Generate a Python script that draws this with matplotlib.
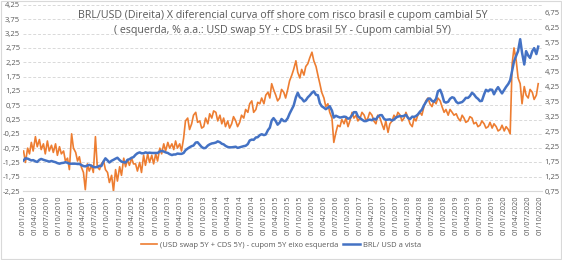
import numpy as np
import pandas as pd
import matplotlib
matplotlib.use("Agg")
import matplotlib.pyplot as plt
import matplotlib.dates as mdates
from matplotlib.ticker import FuncFormatter, FixedLocator
from matplotlib.patches import Rectangle

# semi-monthly readings (1st and 15th of each month), Jan 2010 .. Sep 2020
dates = pd.date_range("2010-01-01", "2020-09-15", freq="SMS")

# (USD swap 5Y + CDS 5Y) - cupom 5Y, left axis
spread = [
    # 2010
    -0.85, -1.25, -0.75, -0.95, -0.55, -0.85, -0.35, -0.70, -0.45, -0.80, -0.60, -0.95,
    -0.50, -0.85, -0.65, -0.90, -0.60, -1.00, -0.70, -0.95, -0.85, -1.20, -1.10, -1.50,
    # 2011
    -0.25, -0.75, -0.90, -1.20, -1.05, -1.40, -1.60, -2.20, -1.30, -1.55, -1.35, -1.60,
    -0.35, -1.40, -1.50, -1.30, -1.20, -1.50, -1.60, -1.95, -1.70, -2.25, -1.50, -1.90,
    # 2012
    -1.40, -1.70, -1.10, -1.40, -1.15, -1.35, -1.10, -1.30, -1.30, -1.55, -1.25, -1.60,
    -1.00, -1.35, -0.95, -1.25, -1.00, -1.30, -0.95, -1.20, -0.75, -0.95, -0.60, -0.85,
    # 2013
    -0.55, -0.75, -0.60, -0.80, -0.50, -0.75, -0.60, -0.85, -0.40, 0.20, 0.30, -0.10,
    0.10, 0.40, 0.50, 0.15, 0.20, -0.05, 0.00, 0.30, 0.10, 0.45, 0.30, 0.55,
    # 2014
    0.50, 0.20, 0.40, 0.10, 0.30, 0.00, 0.20, -0.05, 0.10, 0.35, 0.20, 0.00,
    0.15, 0.40, 0.30, 0.60, 0.50, 0.80, 0.90, 0.50, 0.60, 0.85, 0.80, 1.00,
    # 2015
    0.80, 1.10, 1.20, 1.00, 1.50, 1.30, 1.10, 0.90, 1.00, 1.30, 1.20, 1.00,
    1.30, 1.60, 1.80, 2.00, 2.30, 1.90, 1.70, 2.00, 1.80, 2.10, 2.20, 2.40,
    # 2016
    2.60, 2.30, 2.10, 1.80, 1.50, 1.20, 1.00, 0.70, 0.80, 0.50, 0.30, -0.55,
    -0.20, 0.05, 0.00, 0.25, 0.10, 0.30, 0.00, 0.20, 0.50, 0.30, 0.40, 0.20,
    # 2017
    0.30, 0.50, 0.40, 0.20, 0.30, 0.50, 0.40, 0.20, 0.10, 0.40, 0.30, 0.10,
    -0.10, 0.20, -0.20, 0.10, 0.20, 0.40, 0.30, 0.50, 0.40, 0.20, 0.30, 0.50,
    # 2018
    0.30, 0.10, 0.00, 0.30, 0.20, 0.40, 0.50, 0.40, 0.70, 0.90, 1.00, 0.80,
    0.70, 0.90, 0.80, 1.00, 0.90, 0.70, 0.50, 0.60, 0.40, 0.60, 0.50, 0.40,
    # 2019
    0.45, 0.30, 0.20, 0.40, 0.30, 0.15, 0.20, 0.35, 0.30, 0.10, 0.15, 0.00,
    0.05, 0.20, 0.10, -0.05, 0.00, 0.15, -0.05, 0.10, 0.00, -0.15, -0.10, 0.05,
    # 2020
    -0.15, 0.00, -0.10, -0.25, 2.20, 2.75, 2.30, 1.70, 1.50, 0.80, 1.40, 1.10,
    1.00, 1.30, 1.20, 0.95, 1.10, 1.50,
]

# BRL/USD spot, right axis
brl = [
    # 2010
    1.78, 1.85, 1.84, 1.81, 1.78, 1.79, 1.75, 1.73, 1.80, 1.83, 1.80, 1.78,
    1.76, 1.74, 1.76, 1.74, 1.72, 1.69, 1.67, 1.69, 1.70, 1.72, 1.70, 1.67,
    # 2011
    1.67, 1.67, 1.67, 1.66, 1.66, 1.63, 1.59, 1.58, 1.61, 1.63, 1.60, 1.56,
    1.55, 1.56, 1.60, 1.59, 1.75, 1.85, 1.78, 1.71, 1.77, 1.80, 1.84, 1.87,
    # 2012
    1.79, 1.74, 1.72, 1.71, 1.80, 1.82, 1.87, 1.89, 1.97, 2.02, 2.05, 2.02,
    2.02, 2.05, 2.03, 2.04, 2.03, 2.03, 2.03, 2.03, 2.08, 2.10, 2.08, 2.05,
    # 2013
    2.03, 1.99, 1.96, 1.98, 1.98, 2.01, 2.00, 2.00, 2.03, 2.12, 2.18, 2.22,
    2.26, 2.28, 2.38, 2.39, 2.30, 2.23, 2.19, 2.20, 2.28, 2.32, 2.35, 2.36,
    # 2014
    2.38, 2.42, 2.39, 2.34, 2.32, 2.27, 2.23, 2.22, 2.22, 2.23, 2.24, 2.20,
    2.22, 2.24, 2.26, 2.27, 2.33, 2.45, 2.48, 2.47, 2.55, 2.56, 2.63, 2.66,
    # 2015
    2.63, 2.65, 2.80, 2.88, 3.12, 3.20, 3.10, 2.98, 3.05, 3.17, 3.10, 3.10,
    3.20, 3.35, 3.50, 3.62, 3.90, 4.05, 3.90, 3.86, 3.76, 3.80, 3.90, 3.96,
    # 2016
    4.05, 4.10, 3.98, 3.97, 3.70, 3.60, 3.55, 3.50, 3.55, 3.60, 3.45, 3.22,
    3.28, 3.25, 3.22, 3.23, 3.25, 3.24, 3.18, 3.20, 3.30, 3.40, 3.40, 3.26,
    # 2017
    3.20, 3.15, 3.10, 3.10, 3.13, 3.15, 3.13, 3.18, 3.15, 3.25, 3.30, 3.30,
    3.18, 3.14, 3.15, 3.16, 3.12, 3.15, 3.22, 3.25, 3.27, 3.26, 3.28, 3.31,
    # 2018
    3.20, 3.17, 3.25, 3.24, 3.27, 3.32, 3.42, 3.48, 3.63, 3.73, 3.85, 3.86,
    3.78, 3.75, 3.85, 4.10, 4.15, 4.00, 3.75, 3.72, 3.75, 3.85, 3.90, 3.88,
    # 2019
    3.75, 3.70, 3.72, 3.74, 3.80, 3.88, 3.88, 3.94, 4.05, 4.00, 3.90, 3.85,
    3.77, 3.78, 4.00, 4.15, 4.10, 4.16, 4.15, 4.00, 4.15, 4.24, 4.12, 4.03,
    # 2020
    4.15, 4.25, 4.35, 4.47, 4.80, 5.10, 5.30, 5.45, 5.85, 5.40, 5.00, 5.45,
    5.30, 5.22, 5.45, 5.55, 5.35, 5.60,
]

title = ("BRL/USD (Direita) X diferencial curva off shore com risco brasil e cupom cambial 5Y\n"
         "( esquerda, % a.a.: USD swap 5Y + CDS brasil 5Y - Cupom cambial 5Y)")
label_spread = "(USD swap 5Y + CDS 5Y) - cupom 5Y eixo esquerda"
label_brl = "BRL/ USD a vista"

orange = "#ED7D31"
blue = "#4472C4"
grey_txt = "#595959"

plt.rcParams["font.family"] = ["Open Sans", "DejaVu Sans"]

fig = plt.figure(figsize=(5.62, 2.60), dpi=100)
ax = fig.add_axes([0.041, 0.265, 0.923, 0.716])
ax2 = ax.twinx()

l1, = ax.plot(dates, spread, color=orange, lw=1.2)
l2, = ax2.plot(dates, brl, color=blue, lw=1.8)

comma = FuncFormatter(lambda v, p: f"{v:.2f}".replace(".", ","))

ax.set_ylim(-2.25, 4.25)
ax.yaxis.set_major_locator(FixedLocator(np.arange(-2.25, 4.26, 0.5)))
ax.yaxis.set_major_formatter(comma)
ax2.set_ylim(0.75, 7.0)
ax2.yaxis.set_major_locator(FixedLocator(np.arange(0.75, 6.76, 0.5)))
ax2.yaxis.set_major_formatter(comma)

ax.set_xlim(pd.Timestamp("2009-12-28"), pd.Timestamp("2020-10-12"))
ax.xaxis.set_major_locator(mdates.MonthLocator(bymonth=[1, 4, 7, 10]))
ax.xaxis.set_major_formatter(mdates.DateFormatter("%d/%m/%Y"))

ax.grid(axis="y", color="#d9d9d9", ls=(0, (3, 2)), lw=0.7)
ax.set_axisbelow(True)
for a in (ax, ax2):
    for s in a.spines.values():
        s.set_visible(False)
    a.tick_params(length=0, labelsize=5.5, labelcolor=grey_txt, pad=2)
ax.spines["bottom"].set_visible(True)
ax.spines["bottom"].set_color("#d9d9d9")
ax.tick_params(axis="x", rotation=90, labelsize=5.3, pad=3)

ax.text(0.5, 0.975, title, transform=ax.transAxes, ha="center", va="top",
        fontsize=7.7, color=grey_txt, linespacing=1.5)

fig.legend([l1, l2], [label_spread, label_brl], loc="center", ncol=2,
           bbox_to_anchor=(0.5, 0.057), frameon=False, fontsize=5.5,
           handlelength=2.2, handletextpad=0.4, columnspacing=0.6,
           labelcolor=grey_txt)

fig.patches.append(Rectangle((0.001, 0.004), 0.997, 0.993, transform=fig.transFigure,
                             fill=False, ec="#d9d9d9", lw=0.8))

fig.savefig("out.png", dpi=100)
